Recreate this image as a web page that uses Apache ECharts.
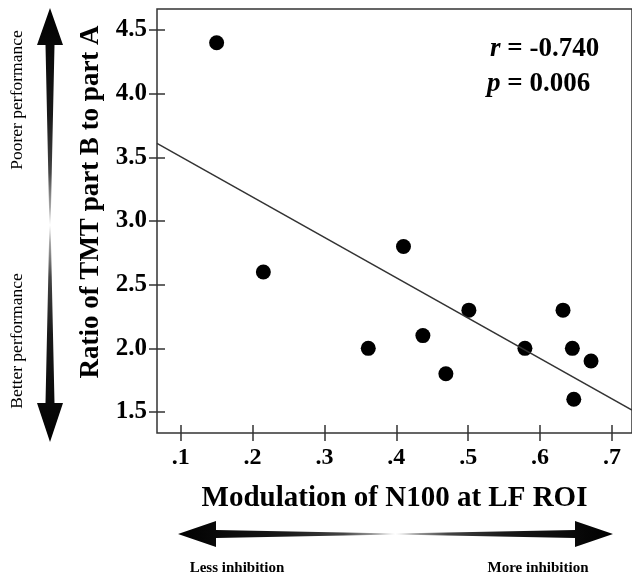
<!DOCTYPE html>
<html>
<head>
<meta charset="utf-8">
<script src="https://cdn.jsdelivr.net/npm/echarts@6/dist/echarts.min.js"></script>
<style>html,body{margin:0;padding:0;background:#fff}#c{width:632px;height:577px}</style>
</head>
<body>
<div id="c"></div>
<script>
// Data
var modulationX = [0.150, 0.215, 0.361, 0.410, 0.437, 0.469, 0.501, 0.579, 0.632, 0.645, 0.647, 0.671];
var tmtRatioY   = [4.40, 2.60, 2.00, 2.80, 2.10, 1.80, 2.30, 2.00, 2.30, 2.00, 1.60, 1.90];
var fitX = [0.067, 0.728];
var fitY = [3.61, 1.515];
var xTicks = [0.1, 0.2, 0.3, 0.4, 0.5, 0.6, 0.7];
var yTicks = [1.5, 2.0, 2.5, 3.0, 3.5, 4.0, 4.5];
var xTitle = 'Modulation of N100 at LF ROI';
var yTitle = 'Ratio of TMT part B to part A';
var rText = '-0.740';
var pText = '0.006';

var serif = '"Liberation Serif", "DejaVu Serif", serif';
var points = modulationX.map(function (x, i) { return [x, tmtRatioY[i]]; });
var fit = fitX.map(function (x, i) { return [x, fitY[i]]; });

var grad = function (vertical) {
  return new echarts.graphic.LinearGradient(0, 0, vertical ? 0 : 1, vertical ? 1 : 0, [
    {offset: 0, color: '#000'}, {offset: 0.25, color: '#1a1a1a'}, {offset: 0.38, color: '#444'},
    {offset: 0.46, color: '#aaa'}, {offset: 0.5, color: '#fff'}, {offset: 0.54, color: '#aaa'},
    {offset: 0.62, color: '#444'}, {offset: 0.75, color: '#1a1a1a'}, {offset: 1, color: '#000'}
  ]);
};

var xMin = 0.067, xMax = 0.728, yMin = 1.335, yMax = 4.665;
var lineCol = '#333';
var tickStyle = {color: lineCol, width: 1.5};

var chart = echarts.init(document.getElementById('c'), null, {renderer: 'canvas'});
chart.setOption({
  animation: false,
  backgroundColor: '#fff',
  grid: {left: 157, top: 9, right: -3, bottom: 144, show: true, borderColor: lineCol, borderWidth: 1.5},
  xAxis: {
    type: 'value', min: xMin, max: xMax, offset: -8,
    axisLine: {show: false}, splitLine: {show: false},
    axisTick: {show: true, length: 16, customValues: xTicks, lineStyle: tickStyle},
    axisLabel: {customValues: xTicks, margin: 21, color: '#000', fontFamily: serif, fontWeight: 'bold', fontSize: 24,
      formatter: function (v) { return String(Math.round(v * 10) / 10).replace(/^0/, ''); }},
    name: xTitle, nameLocation: 'middle', nameGap: 59,
    nameTextStyle: {color: '#000', fontFamily: serif, fontWeight: 'bold', fontSize: 29}
  },
  yAxis: {
    type: 'value', min: yMin, max: yMax, offset: -8,
    axisLine: {show: false}, splitLine: {show: false},
    axisTick: {show: true, length: 16, customValues: yTicks, lineStyle: tickStyle},
    axisLabel: {customValues: yTicks, margin: 18, color: '#000', fontFamily: serif, fontWeight: 'bold', fontSize: 25,
      padding: [0, 0, 0, 0], formatter: function (v) { return v.toFixed(1); }}
  },
  series: [{
    type: 'line', data: fit, symbol: 'none', silent: true,
    lineStyle: {color: lineCol, width: 1.5}
  }, {
    type: 'scatter', data: points, symbol: 'circle', symbolSize: 15,
    itemStyle: {color: '#000', opacity: 1}
  }],
  graphic: [
    {type: 'text', x: 91, y: 202, rotation: Math.PI / 2, style: {
      text: yTitle, fill: '#000', font: 'bold 27px ' + serif, align: 'center', verticalAlign: 'middle'}},
    {type: 'text', left: 490, top: 36, style: {
      text: '{i|r} = ' + rText, fill: '#000', font: 'bold 27px ' + serif,
      rich: {i: {fontStyle: 'italic', fontWeight: 'bold', fontSize: 27, fontFamily: serif}}}},
    {type: 'text', left: 487, top: 71, style: {
      text: '{i|p} = ' + pText, fill: '#000', font: 'bold 27px ' + serif,
      rich: {i: {fontStyle: 'italic', fontWeight: 'bold', fontSize: 27, fontFamily: serif}}}},
    {type: 'polygon', shape: {points: [[50,8],[63,45],[54.5,45],[50.6,225],[54.5,403],[63,403],[50,442],[37,403],[45.5,403],[49.4,225],[45.5,45],[37,45]]},
      style: {fill: grad(true)}},
    {type: 'polygon', shape: {points: [[178,534],[216,521],[216,530],[395.5,533.4],[575,530],[575,521],[613,534],[575,547],[575,538],[395.5,534.6],[216,538],[216,547]]},
      style: {fill: grad(false)}},
    {type: 'text', x: 17, y: 100, rotation: Math.PI / 2, style: {
      text: 'Poorer performance', fill: '#000', font: '17.5px ' + serif, align: 'center', verticalAlign: 'middle'}},
    {type: 'text', x: 17, y: 341, rotation: Math.PI / 2, style: {
      text: 'Better performance', fill: '#000', font: '17.5px ' + serif, align: 'center', verticalAlign: 'middle'}},
    {type: 'text', x: 237, y: 568, style: {
      text: 'Less inhibition', fill: '#000', font: 'bold 15px ' + serif, align: 'center', verticalAlign: 'middle'}},
    {type: 'text', x: 538, y: 568, style: {
      text: 'More inhibition', fill: '#000', font: 'bold 15px ' + serif, align: 'center', verticalAlign: 'middle'}}
  ]
});
</script>
</body>
</html>
